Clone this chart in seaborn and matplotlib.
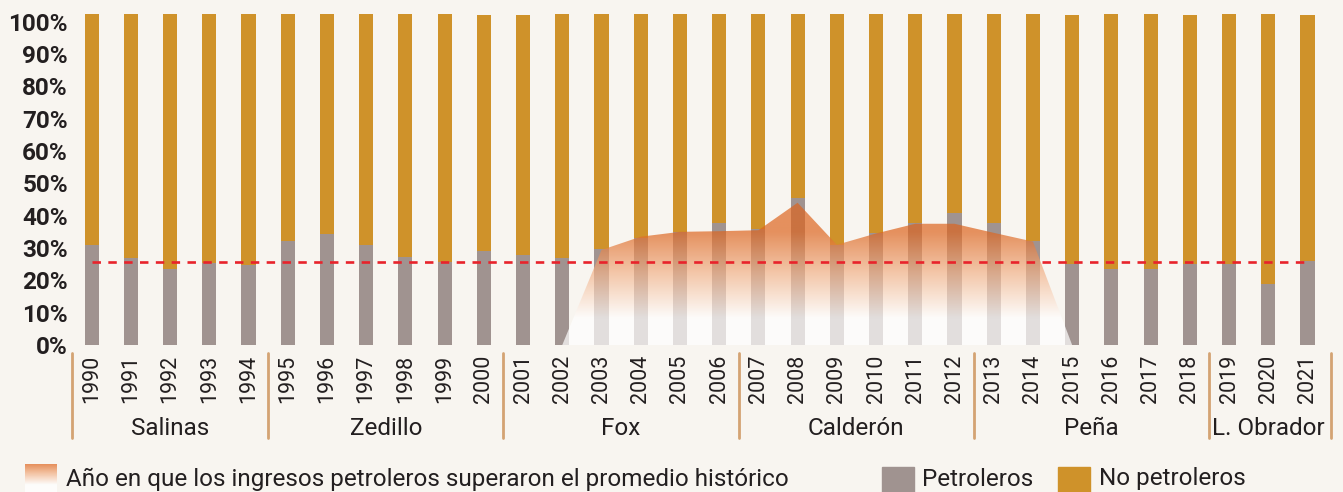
import numpy as np
import pandas as pd
import seaborn as sns
import matplotlib.pyplot as plt
from matplotlib.colors import LinearSegmentedColormap
from matplotlib.patches import Rectangle

# datos (porcentaje de ingresos presupuestarios)
years = [str(y) for y in range(1990, 2022)]
petroleros = [31.0, 27.0, 23.5, 25.3, 24.8, 32.2, 34.4, 31.0, 27.2, 25.7, 29.1,
              27.9, 27.0, 29.7, 33.2, 35.1, 37.6, 35.9, 45.6, 31.0, 34.5, 37.6,
              40.7, 37.6, 32.2, 25.0, 23.5, 23.5, 25.2, 25.2, 19.0, 26.0]
totales = [102.5, 102.5, 102.5, 102.5, 102.5, 102.5, 102.5, 102.5, 102.5, 102.5, 102.0,
           102.0, 102.5, 102.5, 102.5, 102.5, 102.5, 102.5, 102.5, 102.5, 102.5, 102.5,
           102.5, 102.5, 102.5, 102.0, 102.5, 102.5, 102.2, 102.5, 102.5, 102.2]
promedio = 25.7

area_years = [str(y) for y in range(2002, 2016)]
area_vals = [0, 29.4, 33.5, 35.0, 35.2, 35.5, 44.0, 31.0, 34.5, 37.5, 37.5, 34.7, 32.0, 0]

presidentes = ["Salinas", "Zedillo", "Fox", "Calderón", "Peña", "L. Obrador"]
periodos = [("1990", "1994"), ("1995", "2000"), ("2001", "2006"),
            ("2007", "2012"), ("2013", "2018"), ("2019", "2021")]

df = pd.DataFrame({"year": years, "petroleros": petroleros, "total": totales})

BG = "#F8F5F0"
GOLD = "#CF922A"
GRAY = "#A09390"
TAN = "#D4A373"
TXT = "#231F20"

sns.set_theme(style="white")
plt.rcParams["font.family"] = ["Roboto", "DejaVu Sans"]

fig = plt.figure(figsize=(13.43, 4.92), dpi=100, facecolor=BG)
ax = fig.add_axes([72 / 1343, 1 - 345 / 492, (1331 - 72) / 1343, 333 / 492])
ax.set_facecolor(BG)

sns.barplot(data=df, x="year", y="total", order=years, color=GOLD, width=0.36,
            saturation=1, linewidth=0, ax=ax, zorder=2)
sns.barplot(data=df, x="year", y="petroleros", order=years, color=GRAY, width=0.36,
            saturation=1, linewidth=0, ax=ax, zorder=2)

# area con degradado
ax_x = [years.index(y) for y in area_years]
poly = ax.fill_between(ax_x, 0, area_vals, facecolor="none", edgecolor="none")
cmap = LinearSegmentedColormap.from_list(
    "grad", [(0, "#FFFFFF"), (0.18, "#FFFFFF"), (0.48, "#F2B48C"),
             (0.76, "#DD651F"), (1, "#DD651F")])
grad = np.linspace(0, 1, 256).reshape(-1, 1)
im = ax.imshow(grad, extent=[min(ax_x), max(ax_x), 0, 46], origin="lower",
               aspect="auto", cmap=cmap, alpha=0.7, zorder=3)
im.set_clip_path(poly.get_paths()[0], transform=ax.transData)

ax.plot([0, len(years) - 1], [promedio, promedio], color="#E8232B", lw=1.9,
        dashes=(3.2, 2.8), zorder=4)

ax.set_xlim(-0.5, 31.6)
ax.set_ylim(0, 103)
ax.set_yticks(range(0, 101, 10))
ax.set_yticklabels([f"{v}%" for v in range(0, 101, 10)], fontsize=17.5,
                   fontweight="bold", color=TXT)
ax.set_xticks(range(len(years)))
ax.set_xticklabels(years, rotation=90, fontsize=15.5, color=TXT)
ax.tick_params(axis="both", length=0)
ax.tick_params(axis="x", pad=7)
ax.tick_params(axis="y", pad=3)
ax.set_xlabel("")
ax.set_ylabel("")
sns.despine(ax=ax, left=True, bottom=True)

# presidentes
tr = ax.get_xaxis_transform()
bounds = [-0.5]
for name, (a, b) in zip(presidentes, periodos):
    i0, i1 = years.index(a), years.index(b)
    ax.text((i0 + i1) / 2, -0.25, name, transform=tr, ha="center", va="center",
            fontsize=17.5, color=TXT, clip_on=False)
    bounds.append(i1 + 0.5)
bounds[-1] = 31.6
for b in bounds:
    ax.plot([b, b], [-0.024, -0.279], transform=tr, color=TAN, lw=2, clip_on=False)

# leyenda
lax = fig.add_axes([25 / 1343, 0, 32 / 1343, 28 / 492])
lax.imshow(np.linspace(0, 1, 100).reshape(-1, 1)[::-1] * 0.7, cmap=cmap,
           vmin=0, vmax=1, alpha=0.8, aspect="auto", origin="upper")
lax.axis("off")
fig.text(66 / 1343, 13 / 492, "Año en que los ingresos petroleros superaron el promedio histórico",
         fontsize=17.5, color=TXT, va="center")
fig.add_artist(Rectangle((882 / 1343, 0), 32 / 1343, 25 / 492,
                         transform=fig.transFigure, color=GRAY))
fig.text(922 / 1343, 13 / 492, "Petroleros", fontsize=17.5, color=TXT, va="center")
fig.add_artist(Rectangle((1058 / 1343, 0), 32 / 1343, 25 / 492,
                         transform=fig.transFigure, color=GOLD))
fig.text(1099 / 1343, 13 / 492, "No petroleros", fontsize=17.5, color=TXT, va="center")

fig.savefig("out.png", dpi=100, facecolor=BG)
